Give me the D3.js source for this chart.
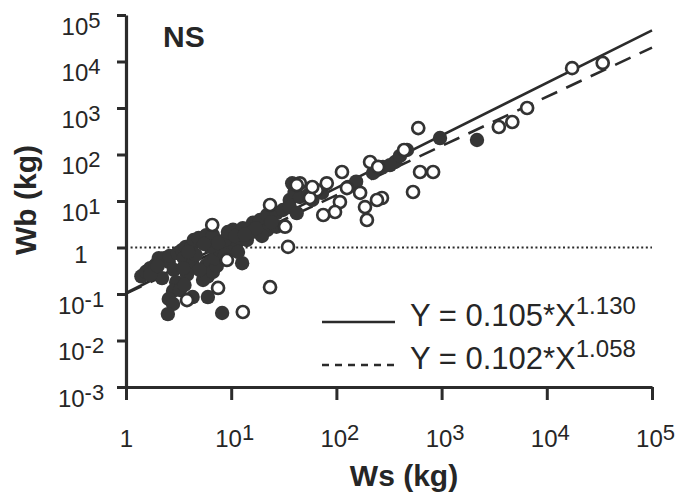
<!DOCTYPE html>
<html>
<head>
<meta charset="utf-8">
<script src="https://cdn.jsdelivr.net/npm/d3@7"></script>
<style>
  body { margin: 0; background: #fff; }
  text { font-family: "Liberation Sans", Arial, Helvetica, sans-serif; fill: #262626; }
</style>
</head>
<body>
<svg id="chart" width="687" height="499"></svg>
<script>
// values, Ws and Wb in kg
const filledWs = [1.4, 1.55, 1.7, 1.9, 2.05, 2.3, 2.55, 2.85, 2.6, 3.1, 3.4, 3.7, 4.15, 4.4, 4.9, 5.8, 6.7,
  3.55, 4.3, 5.8, 6.4, 3.0, 2.8, 2.55, 2.8, 2.5, 4.3, 6.0, 5.4, 6.0, 6.7, 5.0, 7.3, 8.2, 12.7, 7.0, 7.8,
  6.3, 9.7, 11.4, 14.1, 10.4, 12.9, 16.1, 18.8, 21.9, 27, 31, 36, 40, 38, 22, 27, 8.7, 7.5, 15.8, 11.6,
  9.3, 36, 42, 45, 54, 73, 129, 223, 277, 361, 402, 469, 966, 2170, 2.2, 3.26, 3.8, 4.6, 19.6, 24, 59,
  154, 323, 3.9, 5.5, 17.2, 10.9, 1.7, 3.5, 3.6, 8.7, 2.0, 13.5];
const filledWb = [0.24, 0.30, 0.36, 0.42, 0.59, 0.59, 0.49, 0.33, 0.66, 0.76, 0.88, 1.03, 1.0, 1.45, 1.6, 1.85, 1.85,
  0.59, 0.44, 0.42, 0.49, 0.18, 0.116, 0.078, 0.061, 0.037, 0.086, 0.086, 0.20, 0.24, 0.30, 0.33, 0.40, 0.039, 0.46, 0.59, 0.88,
  1.03, 1.03, 1.31, 1.45, 2.4, 2.6, 3.4, 3.9, 5.0, 5.5, 6.4, 10.5, 15.6, 24, 2.4, 2.8, 1.45, 1.25, 2.15, 0.80,
  2.15, 7.4, 5.5, 12.2, 13.5, 15, 20, 40, 54, 69, 93, 125, 226, 205, 0.22, 0.122, 0.26, 0.69, 1.77, 3.5, 10.5,
  26, 59, 0.8, 1.19, 2.6, 1.77, 0.26, 0.36, 0.156, 0.69, 0.40, 1.9];

const openWs = [34000, 17400, 6500, 4700, 3500, 600, 624, 830, 535, 271, 209, 249, 113, 168, 187, 243, 195,
  108, 97, 75, 81, 65, 45, 56, 59, 42, 23.4, 32.5, 34.7, 6.6, 9.1, 23.4, 7.5, 12.9, 3.8, 440, 126];
const openWb = [9300, 7200, 1000, 500, 390, 370, 42, 42, 15.6, 11.6, 69, 54, 42, 15, 7.4, 10.5, 3.9,
  9.5, 5.8, 5.0, 24, 17, 24, 11.6, 20, 22, 8.2, 2.8, 1.03, 3.05, 0.54, 0.14, 0.135, 0.041, 0.074, 125, 19];

// fitted power laws Y = a * X^b
const fitA = [0.105, 0.102];
const fitB = [1.130, 1.058];

const xTickExps = [0, 1, 2, 3, 4, 5];
const yTickExps = [-3, -2, -1, 0, 1, 2, 3, 4, 5];

const ink = "#2b2b2b";
const svg = d3.select("#chart");

const x = d3.scaleLog().domain([1, 1e5]).range([126, 652]);
const y = d3.scaleLog().domain([1e-3, 1e5]).range([387, 15]);

function powLabel(t, e) {
  if (e === 0) { t.text("1"); return; }
  t.append("tspan").text("10");
  t.append("tspan").attr("dy", -7).attr("font-size", 22).text(e);
}

// axes
const yAxis = d3.axisLeft(y).tickValues(yTickExps.map(e => Math.pow(10, e)))
  .tickSize(9).tickSizeOuter(0).tickFormat("");
const gy = svg.append("g").attr("transform", `translate(${x(1)},0)`).call(yAxis);
gy.selectAll(".tick").append("text")
  .attr("x", -45).attr("y", (d, i) => yTickExps[i] === 0 ? 15 : 19)
  .attr("text-anchor", "middle").attr("font-size", 24)
  .each(function(d, i) { powLabel(d3.select(this), yTickExps[i]); });

const xAxis = d3.axisBottom(x).tickValues(xTickExps.map(e => Math.pow(10, e)))
  .tickSize(13).tickSizeOuter(0).tickFormat("");
const gx = svg.append("g").attr("transform", `translate(0,${y(1e-3)})`).call(xAxis);
gx.selectAll(".tick").append("text")
  .attr("x", (d, i) => xTickExps[i] === 0 ? 0 : 3).attr("y", 60)
  .attr("text-anchor", "middle").attr("font-size", 24)
  .each(function(d, i) { powLabel(d3.select(this), xTickExps[i]); });

[gx, gy].forEach(g => {
  g.select(".domain").attr("stroke", ink).attr("stroke-width", 3.2);
  g.selectAll(".tick line").attr("stroke", ink).attr("stroke-width", 3);
});

// dotted line at Wb = 1
svg.append("line")
  .attr("x1", x(1)).attr("x2", x(1e5)).attr("y1", y(1)).attr("y2", y(1))
  .attr("stroke", ink).attr("stroke-width", 1.8).attr("stroke-dasharray", "2,2.6");

// regression lines
const fitLine = d3.line().x(d => x(d[0])).y(d => y(d[1]));
const dashes = [null, "17,10"];
fitA.forEach((a, i) => {
  const ends = x.domain().map(w => [w, a * Math.pow(w, fitB[i])]);
  svg.append("path").attr("d", fitLine(ends))
    .attr("fill", "none").attr("stroke", ink).attr("stroke-width", 2.6)
    .attr("stroke-dasharray", dashes[i]);
});

// points
const filled = filledWs.map((w, i) => [w, filledWb[i]]);
const open = openWs.map((w, i) => [w, openWb[i]]);

svg.append("g").selectAll("circle").data(filled).join("circle")
  .attr("cx", d => x(d[0])).attr("cy", d => y(d[1])).attr("r", 7.2)
  .attr("fill", "#363636");

svg.append("g").selectAll("circle").data(open).join("circle")
  .attr("cx", d => x(d[0])).attr("cy", d => y(d[1])).attr("r", 6)
  .attr("fill", "#fff").attr("stroke", "#333").attr("stroke-width", 2.7);

// legend
const fmt = d3.format(".3f");
const leg = svg.append("g").selectAll("g").data(fitA).join("g")
  .attr("transform", (d, i) => `translate(0,${322 + i * 43})`);
leg.append("line").attr("x1", 322).attr("x2", 395)
  .attr("stroke", ink).attr("stroke-width", 2.6)
  .attr("stroke-dasharray", (d, i) => i ? "7,6" : null);
const lt = leg.append("text").attr("x", 410).attr("y", 4).attr("font-size", 31);
lt.append("tspan").text(d => `Y = ${fmt(d)}*X`);
lt.append("tspan").attr("dy", -12).attr("font-size", 24).text((d, i) => fmt(fitB[i]));

// titles
svg.append("text").attr("x", 163).attr("y", 47)
  .attr("font-size", 30).attr("font-weight", "bold").text("NS");
svg.append("text").attr("transform", "translate(36,200) rotate(-90)")
  .attr("text-anchor", "middle").attr("font-size", 30).attr("font-weight", "bold").text("Wb (kg)");
svg.append("text").attr("x", 404).attr("y", 486)
  .attr("text-anchor", "middle").attr("font-size", 30).attr("font-weight", "bold").text("Ws (kg)");
</script>
</body>
</html>
